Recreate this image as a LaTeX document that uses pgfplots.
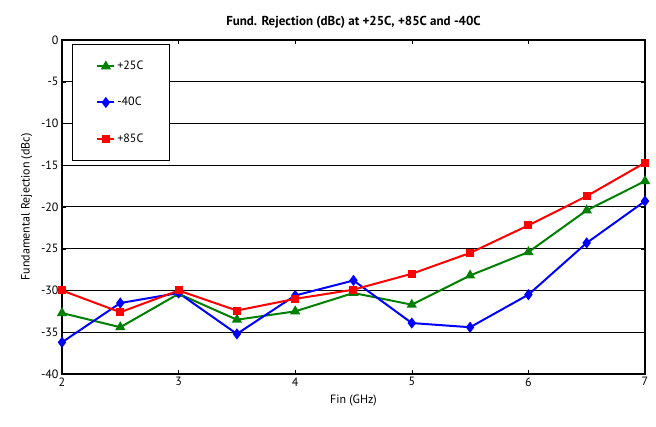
\documentclass[border=0pt]{standalone}
\usepackage{fontspec}
\setmainfont{PT Sans}
\usepackage{pgfplots}
\pgfplotsset{compat=1.18}
\definecolor{cgreen}{RGB}{0,128,0}
\definecolor{cblue}{RGB}{0,0,255}
\definecolor{cred}{RGB}{255,0,0}
\begin{document}
\begin{tikzpicture}[x=1pt,y=1pt]
\path (0,0) rectangle (656,427);
\begin{axis}[
    at={(62pt,53pt)}, anchor=south west,
    width=583pt, height=334pt, scale only axis,
    xmin=2, xmax=7, ymin=-40, ymax=0,
    xtick={2,3,4,5,6,7}, ytick={-40,-35,...,0},
    ymajorgrids, major grid style={black, line width=1pt},
    axis line style={black, line width=1.2pt},
    tick style={black, thin},
    font=\fontsize{12}{14}\selectfont,
    /pgf/number format/assume math mode=true,
    title={\bfseries\fontsize{13}{15}\selectfont Fund. Rejection (dBc) at +25C, +85C and -40C},
    title style={yshift=2pt},
    xlabel={Fin (GHz)}, ylabel={Fundamental Rejection (dBc)},
    xlabel style={yshift=-2pt}, ylabel style={yshift=2pt},
    legend style={at={(0.017,0.988)}, anchor=north west, draw=black, line width=0.8pt,
        font=\fontsize{12}{14}\selectfont, row sep=22pt, inner xsep=24pt, inner ysep=15pt,
        cells={anchor=west}},
    legend cell align=left,
    every axis plot/.append style={line width=2pt},
]
\addplot[cgreen, mark=triangle*, mark size=4pt, mark options={solid}] coordinates {
(2,-32.7) (2.5,-34.4) (3,-30.4) (3.5,-33.5) (4,-32.5) (4.5,-30.3) (5,-31.7) (5.5,-28.2) (6,-25.4) (6.5,-20.4) (7,-16.9)};
\addlegendentry{+25C}
\addplot[cblue, mark=diamond*, mark size=4pt] coordinates {
(2,-36.2) (2.5,-31.5) (3,-30.3) (3.5,-35.2) (4,-30.6) (4.5,-28.8) (5,-33.9) (5.5,-34.4) (6,-30.5) (6.5,-24.3) (7,-19.3)};
\addlegendentry{-40C}
\addplot[cred, mark=square*, mark size=3pt] coordinates {
(2,-30.0) (2.5,-32.6) (3,-30.0) (3.5,-32.4) (4,-31.0) (4.5,-29.9) (5,-28.0) (5.5,-25.5) (6,-22.2) (6.5,-18.7) (7,-14.7)};
\addlegendentry{+85C}
\end{axis}
\end{tikzpicture}
\end{document}
